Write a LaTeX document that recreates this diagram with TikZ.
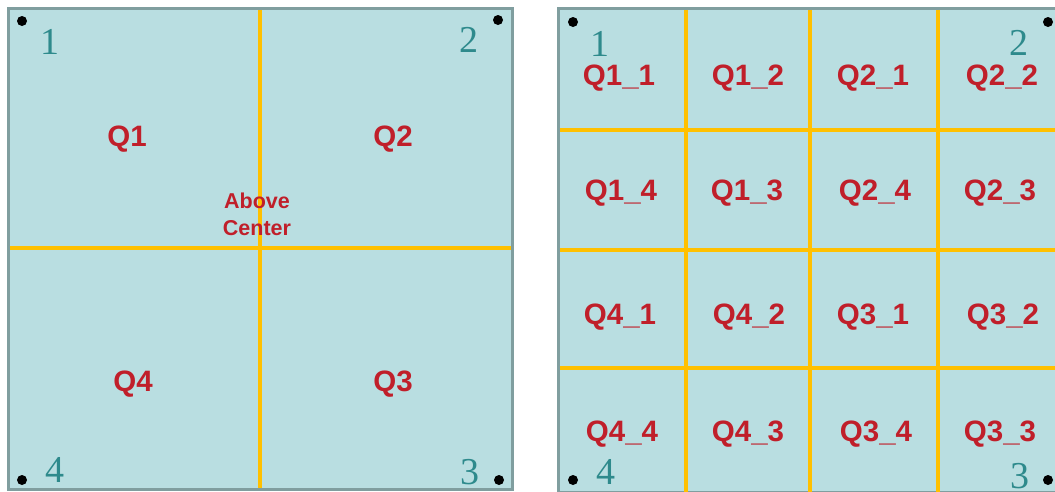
\documentclass[tikz,border=0pt]{standalone}
\usepackage{fontspec}
\setmainfont{Liberation Serif}
\setsansfont{Liberation Sans}
\definecolor{cellfill}{HTML}{B9DEE1}
\definecolor{frame}{HTML}{809E9F}
\definecolor{gridline}{HTML}{FFC000}
\definecolor{lblred}{HTML}{C01F2A}
\definecolor{numteal}{HTML}{2E8A8C}
\begin{document}
\begin{tikzpicture}[x=1pt,y=-1pt,
  sq/.style={fill=cellfill,draw=frame,line width=3pt},
  grid/.style={draw=gridline,line width=4pt},
  qlbl/.style={text=lblred,font=\sffamily\bfseries\fontsize{29.5}{32}\selectfont,inner sep=0pt,yshift=-3pt},
  smlbl/.style={text=lblred,font=\sffamily\bfseries\fontsize{21.5}{27}\selectfont,inner sep=0pt,align=center},
  num/.style={text=numteal,font=\rmfamily\fontsize{38}{40}\selectfont,inner sep=0pt},
  dot/.style={circle,fill=black,inner sep=0pt,minimum size=10pt}]
\useasboundingbox (0,0) rectangle (1055,491);
\begin{scope}
\clip (0,0) rectangle (1055,491);
% left square
\draw[sq] (8,8) rectangle (512,489);
\draw[grid] (260,9.5) -- (260,487.5);
\draw[grid] (9.5,248) -- (510.5,248);
% right square
\draw[sq] (558,8) rectangle (1064,492);
\foreach \x in {686,810,938} \draw[grid] (\x,9.5) -- (\x,495);
\foreach \y in {130,250,368} \draw[grid] (559.5,\y) -- (1060,\y);
\end{scope}
% left labels
\node[qlbl] (q1) at (127,136) {Q1};
\node[qlbl] (q2) at (393,136) {Q2};
\node[qlbl] (q4) at (133,381) {Q4};
\node[qlbl] (q3) at (393,381) {Q3};
\node[smlbl] (ac) at (257,214) {Above\\Center};
\node[num] (n1) at (50,42) {1};
\node[num] (n2) at (469,40) {2};
\node[num] (n4) at (55,470) {4};
\node[num] (n3) at (470,472) {3};
\node[dot] (d1) at (22,21) {};
\node[dot] (d2) at (498,20) {};
\node[dot] (d4) at (22,480) {};
\node[dot] (d3) at (499,480) {};
% right labels
\node[qlbl] (r11) at (619,75) {Q1\_1};
\node[qlbl] (r12) at (748,75) {Q1\_2};
\node[qlbl] (r21) at (873,75) {Q2\_1};
\node[qlbl] (r22) at (1002,75) {Q2\_2};
\node[qlbl] (r14) at (621,190) {Q1\_4};
\node[qlbl] (r13) at (747,190) {Q1\_3};
\node[qlbl] (r24) at (875,190) {Q2\_4};
\node[qlbl] (r23) at (1000,190) {Q2\_3};
\node[qlbl] (r41) at (620,314) {Q4\_1};
\node[qlbl] (r42) at (749,314) {Q4\_2};
\node[qlbl] (r31) at (873,314) {Q3\_1};
\node[qlbl] (r32) at (1003,314) {Q3\_2};
\node[qlbl] (r44) at (622,431) {Q4\_4};
\node[qlbl] (r43) at (748,431) {Q4\_3};
\node[qlbl] (r34) at (876,431) {Q3\_4};
\node[qlbl] (r33) at (1000,431) {Q3\_3};
\node[num] (m1) at (600,44) {1};
\node[num] (m2) at (1019,43) {2};
\node[num] (m4) at (606,472) {4};
\node[num] (m3) at (1020,476) {3};
\node[dot] (e1) at (573,22) {};
\node[dot] (e2) at (1048,22) {};
\node[dot] (e4) at (573,480) {};
\node[dot] (e3) at (1048,480) {};
\end{tikzpicture}
\end{document}
